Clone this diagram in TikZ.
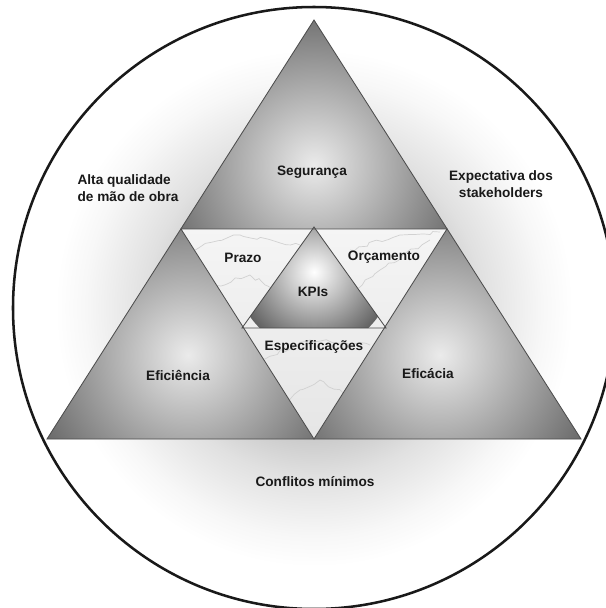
\documentclass[tikz,border=0pt]{standalone}
\usepackage{fontspec}
\setmainfont{Liberation Sans}
\usetikzlibrary{decorations.pathmorphing}
\pgfdeclareradialshading{glow}{\pgfpoint{0bp}{0bp}}{color(0bp)=(black!40); color(9bp)=(black!25); color(14bp)=(black!12); color(19bp)=(black!3); color(21.5bp)=(white); color(50bp)=(white)}
\begin{document}
\begin{tikzpicture}[x=0.025cm, y=-0.025cm,
    lbl/.style={font=\fontsize{9.7}{12}\selectfont\bfseries, align=center, inner sep=0pt, text=black!90},
    edge/.style={draw=black!70, line width=0.6pt},
    bevel/.style={inner color=black!8, outer color=black!62},
    vein/.style={black!18, line width=0.5pt, decorate, decoration={random steps, segment length=4pt, amplitude=1.5pt}}]
    \useasboundingbox (0,0) rectangle (606,608);
    \clip (0,0) rectangle (606,608);

    % corners of the triangles
    \coordinate (top) at (314,20);
    \coordinate (bl) at (47,439);
    \coordinate (br) at (581,439);
    \coordinate (ml) at (181,229);
    \coordinate (mr) at (447,229);
    \coordinate (mb) at (314,439);
    \coordinate (kt) at (314,227);
    \coordinate (kl) at (242,328);
    \coordinate (kr) at (386,328);

    % outer circle
    \shade[shading=glow] (314,308) circle (301);
    \draw[line width=1.8pt, black!90] (314,308) circle (301);

    % three grey corners
    \begin{scope}
        \clip (top) -- (ml) -- (mr) -- cycle;
        \shade[bevel] (314,165) circle (170);
    \end{scope}
    \begin{scope}
        \clip (ml) -- (bl) -- (mb) -- cycle;
        \shade[bevel] (188,355) circle (175);
    \end{scope}
    \begin{scope}
        \clip (mr) -- (br) -- (mb) -- cycle;
        \shade[bevel] (440,355) circle (175);
    \end{scope}

    % marble middle
    \begin{scope}
        \clip (ml) -- (mr) -- (mb) -- cycle;
        \shade[top color=black!4, bottom color=black!10] (ml) -- (mr) -- (mb) -- cycle;
        \draw[vein] (190,250) -- (240,235) -- (300,245);
        \draw[vein] (205,290) -- (250,275) -- (290,300);
        \draw[vein] (340,300) -- (380,270) -- (430,240);
        \draw[vein] (350,250) -- (400,235) -- (440,232);
        \draw[vein] (260,360) -- (310,340) -- (370,345);
        \draw[vein] (285,400) -- (320,380) -- (345,395);
    \end{scope}

    % KPI triangle
    \begin{scope}
        \clip (kt) -- (kl) -- (kr) -- cycle;
        \shade[inner color=white, outer color=black!62] (314,272) circle (78);
    \end{scope}

    \draw[edge] (top) -- (bl) -- (br) -- cycle;
    \draw[edge] (ml) -- (mr) -- (mb) -- cycle;
    \draw[edge] (kt) -- (kl) -- (kr) -- cycle;

    % labels
    \node[lbl] (safety) at (312,172) {Segurança};
    \node[lbl, align=left] (labour) at (128,188) {Alta qualidade\\de mão de obra};
    \node[lbl] (stake) at (501,184) {Expectativa dos\\stakeholders};
    \node[lbl] (deadline) at (243,258) {Prazo};
    \node[lbl] (budget) at (384,257) {Orçamento};
    \node[lbl] (kpi) at (313,292) {KPIs};
    \node[lbl] (spec) at (314,347) {Especificações};
    \node[lbl] (efficiency) at (178,375) {Eficiência};
    \node[lbl] (efficacy) at (428,374) {Eficácia};
    \node[lbl] (conflict) at (315,482) {Conflitos mínimos};
\end{tikzpicture}
\end{document}
